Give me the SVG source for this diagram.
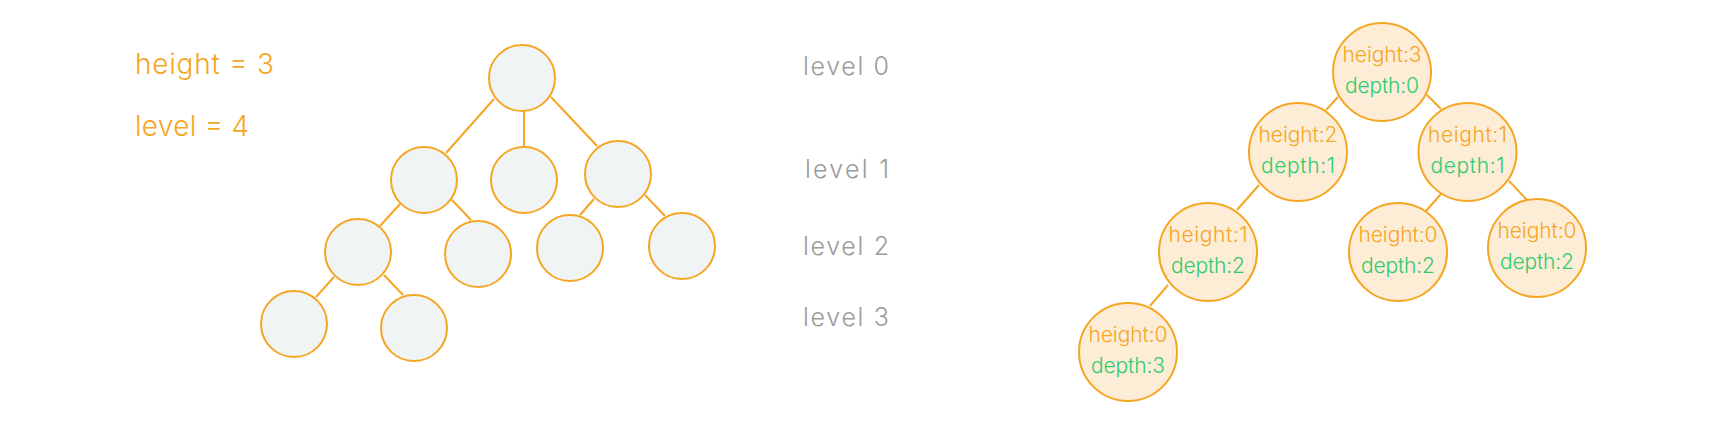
<svg xmlns="http://www.w3.org/2000/svg" width="1730" height="442" viewBox="0 0 1730 442">
<style>
.bg{fill:#ffffff}
.ln{stroke:#F5A623;stroke-width:2;fill:none}
.nl{fill:#F0F4F4;stroke:#F5A623;stroke-width:2}
.nr{fill:#FDEDD6;stroke:#F5A623;stroke-width:2}
text{font-family:Inter,"Liberation Sans",Arial,sans-serif;font-weight:300}
.big{font-size:28px;fill:#F5A623}
.lvl{font-size:25px;fill:#9B9B9B}
.h{font-size:21px;fill:#F5A623;text-anchor:middle}
.d{font-size:21px;fill:#2FCB6F;text-anchor:middle}
</style>
<rect class="bg" x="0" y="0" width="1730" height="442"/>
<g id="labels">
<text class="big" x="135" y="74" textLength="139" lengthAdjust="spacing">height = 3</text>
<text class="big" x="135" y="136" textLength="114" lengthAdjust="spacing">level = 4</text>
<text class="lvl" x="803" y="75" textLength="86" lengthAdjust="spacing">level 0</text>
<text class="lvl" x="805" y="178" textLength="84" lengthAdjust="spacing">level 1</text>
<text class="lvl" x="803" y="255" textLength="86" lengthAdjust="spacing">level 2</text>
<text class="lvl" x="803" y="326" textLength="86" lengthAdjust="spacing">level 3</text>
</g>
<g id="connectors">
<line class="ln" x1="494" y1="99" x2="446" y2="153"/>
<line class="ln" x1="524" y1="111" x2="524" y2="146"/>
<line class="ln" x1="551" y1="97" x2="597" y2="146"/>
<line class="ln" x1="400" y1="204" x2="380" y2="226"/>
<line class="ln" x1="452" y1="200" x2="471" y2="220"/>
<line class="ln" x1="594" y1="199" x2="580" y2="215"/>
<line class="ln" x1="645" y1="195" x2="665" y2="216"/>
<line class="ln" x1="334" y1="277" x2="316" y2="297"/>
<line class="ln" x1="384" y1="275" x2="403" y2="295"/>
<line class="ln" x1="1338" y1="97" x2="1326" y2="110"/>
<line class="ln" x1="1427" y1="95" x2="1441" y2="109"/>
<line class="ln" x1="1259" y1="185" x2="1237" y2="210"/>
<line class="ln" x1="1441" y1="194" x2="1426" y2="211"/>
<line class="ln" x1="1509" y1="181" x2="1529" y2="202"/>
<line class="ln" x1="1168" y1="285" x2="1150" y2="306"/>
</g>
<g id="l-root"><circle class="nl" cx="522" cy="78" r="33"/></g>
<g id="l-1a"><circle class="nl" cx="424" cy="180" r="33"/></g>
<g id="l-1b"><circle class="nl" cx="524" cy="180" r="33"/></g>
<g id="l-1c"><circle class="nl" cx="618" cy="174" r="33"/></g>
<g id="l-2a"><circle class="nl" cx="358" cy="252" r="33"/></g>
<g id="l-2b"><circle class="nl" cx="478" cy="254" r="33"/></g>
<g id="l-2c"><circle class="nl" cx="570" cy="248" r="33"/></g>
<g id="l-2d"><circle class="nl" cx="682" cy="246" r="33"/></g>
<g id="l-3a"><circle class="nl" cx="294" cy="324" r="33"/></g>
<g id="l-3b"><circle class="nl" cx="414" cy="328" r="33"/></g>
<g id="r-root"><circle class="nr" cx="1382" cy="72" r="49"/><text class="h" x="1382" y="62" textLength="79" lengthAdjust="spacing">height:3</text><text class="d" x="1382" y="93" textLength="74" lengthAdjust="spacing">depth:0</text></g>
<g id="r-1a"><circle class="nr" cx="1298" cy="152" r="49"/><text class="h" x="1298" y="142" textLength="79" lengthAdjust="spacing">height:2</text><text class="d" x="1298" y="173" textLength="74" lengthAdjust="spacing">depth:1</text></g>
<g id="r-1b"><circle class="nr" cx="1467.5" cy="152" r="49"/><text class="h" x="1467.5" y="142" textLength="79" lengthAdjust="spacing">height:1</text><text class="d" x="1467.5" y="173" textLength="74" lengthAdjust="spacing">depth:1</text></g>
<g id="r-2a"><circle class="nr" cx="1208" cy="252" r="49"/><text class="h" x="1208" y="242" textLength="79" lengthAdjust="spacing">height:1</text><text class="d" x="1208" y="273" textLength="74" lengthAdjust="spacing">depth:2</text></g>
<g id="r-2b"><circle class="nr" cx="1398" cy="252" r="49"/><text class="h" x="1398" y="242" textLength="79" lengthAdjust="spacing">height:0</text><text class="d" x="1398" y="273" textLength="74" lengthAdjust="spacing">depth:2</text></g>
<g id="r-2c"><circle class="nr" cx="1537" cy="248" r="49"/><text class="h" x="1537" y="238" textLength="79" lengthAdjust="spacing">height:0</text><text class="d" x="1537" y="269" textLength="74" lengthAdjust="spacing">depth:2</text></g>
<g id="r-3a"><circle class="nr" cx="1128" cy="352" r="49"/><text class="h" x="1128" y="342" textLength="79" lengthAdjust="spacing">height:0</text><text class="d" x="1128" y="373" textLength="74" lengthAdjust="spacing">depth:3</text></g>
</svg>
